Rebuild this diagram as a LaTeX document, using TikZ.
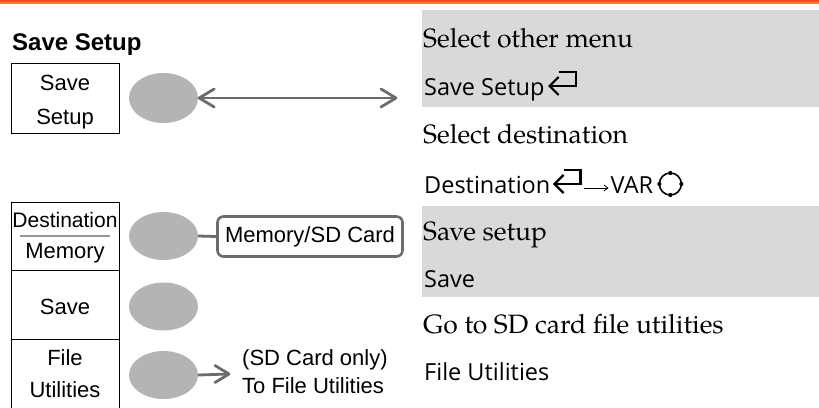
\documentclass[tikz,border=0pt]{standalone}
\usepackage{fontspec}
\usetikzlibrary{shapes.geometric,arrows.meta,calc}
\newfontfamily\arialf{Liberation Sans}
\newfontfamily\uif{Open Sans}
\newfontfamily\palf{texgyrepagella-regular.otf}
\newcommand\setfs[1]{\fontsize{#1}{#1}\selectfont}
\definecolor{btngray}{RGB}{180,180,180}
\definecolor{conngray}{RGB}{108,108,108}
\definecolor{bandgray}{RGB}{217,217,217}
\definecolor{sepgray}{RGB}{150,150,150}
\definecolor{orangeA}{RGB}{226,78,22}
\definecolor{orangeB}{RGB}{247,140,60}
\tikzset{
  btn/.style={ellipse, fill=btngray, draw=none, minimum width=69pt, minimum height=48pt, inner sep=0pt},
  menubox/.style={draw=black, line width=0.9pt, minimum width=108pt, inner sep=0pt},
  arl/.style={font=\arialf\setfs{22}, inner sep=0pt},
  conn/.style={draw=conngray, line width=2.8pt},
  chevl/.style={draw=conngray, line width=2.8pt, line join=round, line cap=round},
  serif/.style={font=\palf\setfs{26.5}, inner sep=0pt, anchor=base west},
  uitxt/.style={font=\uif\setfs{23.5}, inner sep=0pt, anchor=base west},
  retg/.pic={
    \draw[line width=2.2pt, line join=miter] (10,-23) -- (27,-23) -- (27,-9) -- (1,-9);
    \draw[line width=2.2pt, line join=miter] (10,-18) -- (1,-9) -- (10,0);
  },
  knob/.pic={
    \draw[line width=1.6pt] (0,0) circle (11pt);
    \foreach \a in {90,180,270,0} \fill (\a:11pt) circle (2.1pt);
  }
}
\begin{document}
\begin{tikzpicture}[x=1pt,y=-1pt]
\useasboundingbox (0,0) rectangle (819,407);
% top bar
\shade[top color=orangeA, bottom color=orangeB] (0,0) rectangle (819,3.5);
% right column bands
\fill[bandgray] (422,10) rectangle (819,107);
\fill[bandgray] (422,206) rectangle (819,297);
% title
\node[font=\arialf\bfseries\setfs{24}, anchor=base west, inner sep=0pt] (title) at (12,50) {Save Setup};
% top menu box
\node[menubox, minimum height=70pt] (b1) at (65,98) {};
\node[arl, anchor=base] (b1a) at (65,90) {Save};
\node[arl, anchor=base] (b1b) at (65,124) {Setup};
% lower menu boxes
\node[menubox, minimum height=68pt] (b2) at (65,236) {};
\node[menubox, minimum height=69pt] (b3) at (65,304.5) {};
\node[menubox, minimum height=80pt] (b4) at (65,379) {};
\node[font=\arialf\setfs{21}, inner sep=0pt, anchor=base] (b2a) at (65,227) {Destination};
\draw[sepgray, line width=1.3pt] (20,236) -- (110,236);
\node[arl, anchor=base] (b2b) at (65,258) {Memory};
\node[arl, anchor=base] (b3a) at (65,314) {Save};
\node[arl, anchor=base] (b4a) at (65,365) {File};
\node[arl, anchor=base] (b4b) at (65,397) {Utilities};
% buttons
\node[btn, minimum height=50pt] (e1) at (163.5,98) {};
\node[btn] (e2) at (163.5,236) {};
\node[btn] (e3) at (163.5,306.5) {};
\node[btn] (e4) at (163.5,375) {};
% connectors
\coordinate (a1end) at (396,98);
\draw[conn] (e1.east) -- (a1end);
\draw[chevl] ($(e1.east)+(16,-9)$) -- ($(e1.east)+(1,0)$) -- ($(e1.east)+(16,9)$);
\draw[chevl] ($(a1end)+(-15,-9)$) -- (a1end) -- ($(a1end)+(-15,9)$);
\node[draw=conngray, line width=2.6pt, rounded corners=6pt, minimum width=185pt, minimum height=40pt, inner sep=0pt, font=\arialf\setfs{22}] (mem) at (310,236.5) {Memory/SD Card};
\draw[conn] (e2.east) -- (mem.west);
\coordinate (a4end) at (229,374);
\draw[conn] (e4.east) -- (a4end);
\draw[chevl] ($(a4end)+(-14,-8.5)$) -- (a4end) -- ($(a4end)+(-14,8.5)$);
\node[arl, anchor=base west] (sd1) at (242,365) {(SD Card only)};
\node[arl, anchor=base west] (sd2) at (242,393) {To File Utilities};
% right column text
\node[serif] (r1) at (423,47) {Select other menu};
\node[uitxt] (r2) at (424,95) {Save Setup};
\pic at ($(r2.base east)+(4,0)$) {retg};
\node[serif] (r3) at (423,143) {Select destination};
\node[uitxt] (r4) at (424,193) {Destination};
\pic at ($(r4.base east)+(3,0)$) {retg};
\coordinate (sa1) at ($(r4.base east)+(33,-5)$);
\coordinate (sa2) at ($(r4.base east)+(58,-5)$);
\draw[line width=0.8pt, -{Straight Barb[length=4pt,width=6pt]}] (sa1) -- (sa2);
\node[uitxt] (r4v) at ($(r4.base east)+(60,0)$) {VAR};
\pic at ($(r4v.base east)+(17,-9)$) {knob};
\node[serif] (r5) at (423,240) {Save setup};
\node[uitxt] (r6) at (424,287) {Save};
\node[serif] (r7) at (423,333) {Go to SD card file utilities};
\node[uitxt] (r8) at (424,380) {File Utilities};
\end{tikzpicture}
\end{document}
